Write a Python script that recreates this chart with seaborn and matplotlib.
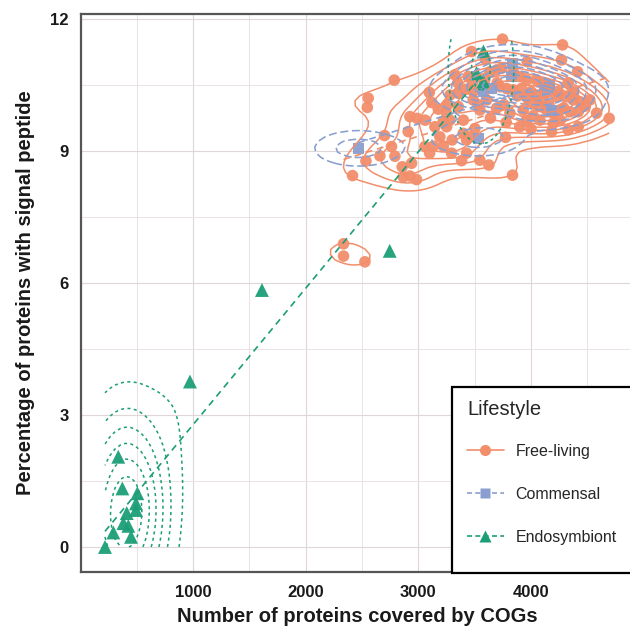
import numpy as np
import pandas as pd
import matplotlib
matplotlib.use("Agg")
import matplotlib.pyplot as plt
import seaborn as sns
from matplotlib.lines import Line2D
from matplotlib.patches import Rectangle

# ---------------- data ----------------
lifestyles = ["Free-living", "Commensal", "Endosymbiont"]
colors = ["#F28E6B", "#8A9FD0", "#1B9E77"]
markers = ["o", "s", "^"]

free_x = [3747, 4280, 3472, 3597, 4271, 3966, 4413, 2786, 3325, 3443,
          3635, 3694, 3739, 3842, 3901, 3960, 4049, 4108, 2555, 2547,
          3097, 3280, 3354, 3487, 3487, 3606, 3724, 3783, 3842, 3916,
          3960, 4049, 4138, 4227, 4315, 4375, 4434, 4522, 3177, 3354,
          3251, 3280, 3221, 2925, 2990, 3546, 3694, 3813, 3931, 4020,
          4079, 4138, 4197, 4256, 4345, 4419, 4582, 4694, 2910, 3147,
          3191, 3251, 3398, 3458, 3428, 3502, 3774, 2762, 2659, 2792,
          3058, 3132, 3221, 3295, 3428, 3384, 3546, 3626, 2535, 2416,
          2857, 2940, 2866, 2925, 2984, 3836, 4197, 4182, 4330, 4419,
          4079, 3960, 4000, 4090, 4160, 4240, 4290, 4120, 4020, 3880,
          3760, 3700, 3590, 3480, 3420, 3530, 3640, 3780, 3900, 4000,
          4260, 4380, 4480, 4330, 3350, 3260, 3120, 3060, 3400, 3300,
          3100, 2700, 2336, 2336, 2526]
free_y = [11.54, 11.41, 11.26, 11.08, 11.07, 11.03, 10.80, 10.61, 10.73, 10.69,
          10.80, 10.84, 10.88, 10.80, 10.69, 10.61, 10.61, 10.54, 10.20, 9.99,
          10.33, 10.27, 10.31, 10.35, 10.16, 10.16, 10.46, 10.42, 10.39, 10.42,
          10.23, 10.27, 10.31, 10.23, 10.23, 10.16, 10.12, 10.16, 9.95, 10.01,
          9.86, 9.70, 9.67, 9.78, 9.74, 9.93, 9.97, 9.86, 9.93, 10.08,
          10.01, 9.93, 9.86, 9.93, 9.89, 9.89, 9.86, 9.74, 9.44, 9.55,
          9.32, 9.55, 9.40, 9.32, 9.25, 9.51, 9.31, 9.10, 8.89, 8.88,
          9.10, 9.11, 9.11, 8.95, 8.95, 8.78, 8.79, 8.68, 8.77, 8.44,
          8.64, 8.72, 8.41, 8.43, 8.35, 8.45, 9.63, 9.44, 9.48, 9.55,
          9.70, 9.70, 10.35, 10.15, 10.05, 10.35, 9.98, 10.45, 9.80, 10.25,
          10.05, 10.55, 10.62, 10.55, 10.40, 10.05, 9.75, 9.65, 9.55, 9.50,
          9.70, 10.35, 10.02, 10.55, 10.55, 10.05, 10.10, 9.70, 9.70, 9.25,
          8.95, 9.35, 6.89, 6.61, 6.48]

comm_x = [2467, 3532, 3580, 3650, 3828, 3833, 4150, 4168, 4183]
comm_y = [9.06, 9.29, 10.35, 10.42, 10.69, 10.99, 10.40, 10.50, 9.93]

endo_x = [219, 293, 337, 373, 382, 412, 426, 450, 494, 494, 506,
          973, 1612, 2746, 3517, 3576, 3578]
endo_y = [0.00, 0.33, 2.05, 1.33, 0.54, 0.77, 0.48, 0.23, 0.99, 0.84, 1.22,
          3.76, 5.84, 6.73, 10.77, 10.58, 11.26]

x_ticks = [1000, 2000, 3000, 4000]
y_ticks = [0, 3, 6, 9, 12]

df = pd.concat([
    pd.DataFrame({"x": free_x, "y": free_y, "Lifestyle": "Free-living"}),
    pd.DataFrame({"x": comm_x, "y": comm_y, "Lifestyle": "Commensal"}),
    pd.DataFrame({"x": endo_x, "y": endo_y, "Lifestyle": "Endosymbiont"}),
], ignore_index=True)

# ---------------- style ----------------
sns.set_theme(style="white")
plt.rcParams["font.family"] = ["Liberation Sans", "DejaVu Sans"]

fig = plt.figure(figsize=(6.3, 6.3), dpi=100)
ax = fig.add_axes([0.1284, 0.0913, 0.879, 0.887])

marker_sizes = [70, 62, 100]
for name, c, m, s in zip(lifestyles, colors, markers, marker_sizes):
    sns.scatterplot(data=df[df["Lifestyle"] == name], x="x", y="y",
                    color=c, marker=m, s=s, edgecolor="none", alpha=0.95,
                    legend=False, ax=ax, zorder=3)

# ----- 2D density contours (product gaussian kernel, per group) -----
kernel_sd = {"Free-living": (215, 0.26), "Commensal": (280, 0.29),
             "Endosymbiont": (235, 1.36)}
n_steps = {"Free-living": 11, "Commensal": 9, "Endosymbiont": 7}

gx = np.linspace(df["x"].min(), df["x"].max(), 100)
gy = np.linspace(df["y"].min(), df["y"].max(), 100)

contour_styles = {
    "Free-living": dict(linestyles="solid", linewidths=1.1),
    "Commensal": dict(linestyles=[(0, (5, 2.3))], linewidths=1.15),
    "Endosymbiont": dict(linestyles=[(0, (2.0, 2.2))], linewidths=1.1),
}

for name, c in zip(lifestyles, colors):
    sub = df[df["Lifestyle"] == name]
    x = sub["x"].to_numpy(float)
    y = sub["y"].to_numpy(float)
    hx, hy = kernel_sd[name]
    kx = np.exp(-0.5 * ((gx[:, None] - x[None, :]) / hx) ** 2) / np.sqrt(2 * np.pi)
    ky = np.exp(-0.5 * ((gy[:, None] - y[None, :]) / hy) ** 2) / np.sqrt(2 * np.pi)
    z = (kx @ ky.T) / (len(x) * hx * hy)
    step = z.max() / n_steps[name]
    levels = np.arange(1, n_steps[name]) * step
    ax.contour(gx, gy, z.T, levels=levels, colors=[c], zorder=4,
               **contour_styles[name])

# ----- linear fits per group -----
for name, c in zip(lifestyles, colors):
    sub = df[df["Lifestyle"] == name]
    sns.regplot(data=sub, x="x", y="y", scatter=False, ci=None, truncate=True,
                ax=ax, line_kws=dict(color=c, lw=1.2, ls=(0, (4, 3)), zorder=5))

# ---------------- axes ----------------
ax.set_xlim(5, 4920)
ax.set_ylim(-0.58, 12.12)
ax.set_xticks(x_ticks)
ax.set_yticks(y_ticks)
ax.set_xticks(np.arange(500, 4900, 1000), minor=True)
ax.set_yticks(np.arange(1.5, 12, 3), minor=True)
ax.grid(True, which="major", color="#e0d6d6", lw=0.8, zorder=0)
ax.grid(True, which="minor", color="#ebe2e2", lw=0.7, zorder=0)
ax.set_axisbelow(True)
ax.tick_params(axis="both", which="major", direction="out", length=6,
               width=1, color="#444444", labelsize=12, labelcolor="#1a1a1a",
               pad=3)
ax.tick_params(axis="both", which="minor", length=0)
for lab in ax.get_xticklabels() + ax.get_yticklabels():
    lab.set_fontweight("bold")
for side in ["left", "bottom", "top"]:
    ax.spines[side].set_color("#555555")
    ax.spines[side].set_linewidth(1.6)
ax.spines["right"].set_visible(False)

ax.set_xlabel("Number of proteins covered by COGs", fontsize=14.5,
              fontweight="bold", color="#1a1a1a", labelpad=5)
ax.set_ylabel("Percentage of proteins with signal peptide", fontsize=14.5,
              fontweight="bold", color="#1a1a1a", labelpad=11)

# ---------------- legend ----------------
fig.patches.append(Rectangle((452 / 630, (630 - 572.5) / 630), 0.32,
                             (572.5 - 387) / 630, transform=fig.transFigure,
                             facecolor="white", edgecolor="black", lw=1.6,
                             zorder=2))
handles = [Line2D([], [], color=c, marker=m, markersize=ms, lw=1.2,
                  ls=ls, markeredgecolor="none")
           for c, m, ls, ms in zip(colors, markers,
                                   ["-", (0, (3, 2)), (0, (3, 2))], [8, 7.5, 9])]
fig.legend(handles, lifestyles, title="Lifestyle", loc="upper left",
           bbox_to_anchor=(467 / 630, 1 - 400 / 630),
           bbox_transform=fig.transFigure, frameon=False, fontsize=11.5,
           title_fontsize=14.5, handlelength=2.3, labelspacing=1.75,
           handletextpad=0.75, borderaxespad=0, borderpad=0,
           alignment="left")
leg = fig.legends[-1]
leg._legend_box.sep = 18

fig.savefig("out.png", dpi=100)
